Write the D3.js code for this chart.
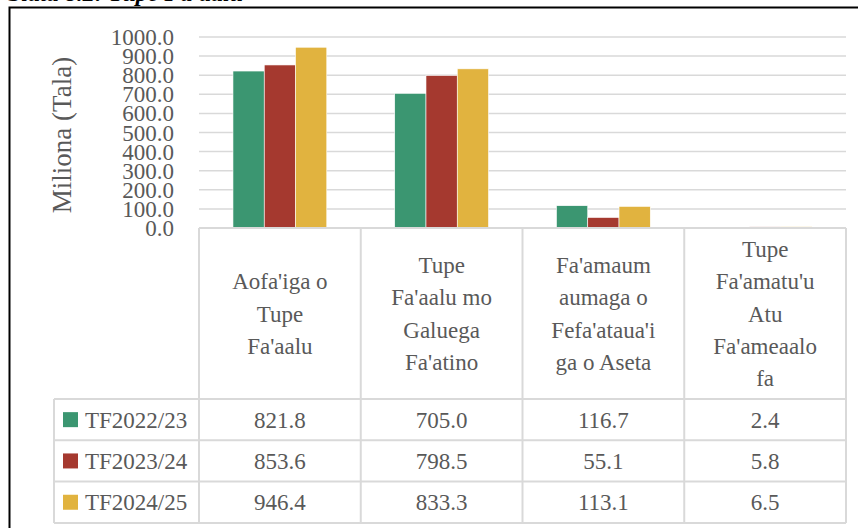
<!DOCTYPE html>
<html>
<head>
<meta charset="utf-8">
<script src="https://cdn.jsdelivr.net/npm/d3@7"></script>
<style>
  body { margin: 0; background: #fff; }
  svg text { font-family: "Liberation Serif", "DejaVu Serif", serif; fill: #595959; }
</style>
</head>
<body>
<div id="chart-area"></div>
<script>
// categories (header row of the data table)
const categories = [
    ["Aofa'iga o", "Tupe", "Fa'aalu"],
    ["Tupe", "Fa'aalu mo", "Galuega", "Fa'atino"],
    ["Fa'amaum", "aumaga o", "Fefa'ataua'i", "ga o Aseta"],
    ["Tupe", "Fa'amatu'u", "Atu", "Fa'ameaalo", "fa"]
];
const seriesNames = ["TF2022/23", "TF2023/24", "TF2024/25"];
const seriesColors = ["#3b9671", "#a5392f", "#e1b33f"];
const values2022 = [821.8, 705.0, 116.7, 2.4];
const values2023 = [853.6, 798.5, 55.1, 5.8];
const values2024 = [946.4, 833.3, 113.1, 6.5];
const yTicks = [0, 100, 200, 300, 400, 500, 600, 700, 800, 900, 1000];

const seriesValues = [values2022, values2023, values2024];

const width = 858;
const height = 528;
const gridCol = "#d9d9d9";

const svg = d3.select("#chart-area")
    .append("svg")
    .attr("width", width)
    .attr("height", height);

// title, mostly cut off at the top edge, and frame
svg.append("text")
    .attr("x", 8)
    .attr("y", 1)
    .style("font-style", "italic")
    .style("font-weight", "bold")
    .style("font-size", "24px")
    .style("fill", "#000")
    .text("Siata 8.2: Tupe Fa'aalu");

svg.append("path")
    .attr("d", "M9.5,528 V7.5 H858")
    .attr("fill", "none")
    .attr("stroke", "#000")
    .attr("stroke-width", 2);

const plotLeft = 199, plotRight = 846;
const y = d3.scaleLinear().domain([0, 1000]).range([228, 37]);
const x0 = d3.scaleBand()
    .domain(d3.range(categories.length))
    .range([plotLeft, plotRight]);
const step = x0.bandwidth();
const x1 = d3.scaleBand()
    .domain(d3.range(seriesNames.length))
    .range([step * 0.21, step * 0.79]);

// gridlines
svg.append("g")
    .selectAll("line")
    .data(yTicks.slice(1))
    .enter()
    .append("line")
    .attr("x1", plotLeft)
    .attr("x2", plotRight)
    .attr("y1", d => y(d))
    .attr("y2", d => y(d))
    .attr("stroke", gridCol)
    .attr("stroke-width", 1.5);

// tick labels (they crowd each other, as in the original)
svg.append("g")
    .selectAll("text")
    .data(yTicks)
    .enter()
    .append("text")
    .attr("x", 174)
    .attr("y", d => y(d))
    .attr("dy", "0.35em")
    .attr("text-anchor", "end")
    .style("font-size", "23px")
    .text(d => d3.format(".1f")(d));

// axis title
svg.append("text")
    .attr("transform", "translate(71,135) rotate(-90)")
    .attr("text-anchor", "middle")
    .style("font-size", "27px")
    .text("Miliona (Tala)");

// bars
const groups = svg.append("g")
    .selectAll("g")
    .data(categories.map((c, i) => i))
    .enter()
    .append("g")
    .attr("transform", d => "translate(" + x0(d) + ",0)");

groups.selectAll("rect")
    .data(ci => seriesValues.map((s, si) => ({si: si, v: s[ci]})))
    .enter()
    .append("rect")
    .attr("x", d => x1(d.si))
    .attr("width", x1.bandwidth())
    .attr("y", d => y(d.v))
    .attr("height", d => y(0) - y(d.v))
    .attr("fill", d => seriesColors[d.si])
    .attr("stroke", "#fff")
    .attr("stroke-width", 0.6);

// data table
const headTop = 228, headBottom = 399;
const rowH = 41.3;
const tableLeft = 54;
const tbl = svg.append("g");

// header row cells
categories.forEach((lines, i) => {
    const cx = x0(i) + step / 2;
    const lh = 32.3;
    const startY = (headTop + headBottom) / 2 - (lines.length - 1) * lh / 2;
    tbl.append("text")
        .attr("text-anchor", "middle")
        .style("font-size", "23px")
        .selectAll("tspan")
        .data(lines)
        .enter()
        .append("tspan")
        .attr("x", cx)
        .attr("y", (d, k) => startY + k * lh)
        .attr("dy", "0.35em")
        .text(d => d);
});

// data rows
seriesNames.forEach((name, si) => {
    const top = headBottom + si * rowH;
    const mid = top + rowH / 2;
    tbl.append("rect")
        .attr("x", 63)
        .attr("y", mid - 7.5)
        .attr("width", 15)
        .attr("height", 15)
        .attr("fill", seriesColors[si]);
    tbl.append("text")
        .attr("x", 85)
        .attr("y", mid)
        .attr("dy", "0.35em")
        .style("font-size", "23px")
        .text(name);
    seriesValues[si].forEach((v, ci) => {
        tbl.append("text")
            .attr("x", x0(ci) + step / 2)
            .attr("y", mid)
            .attr("dy", "0.35em")
            .attr("text-anchor", "middle")
            .style("font-size", "23px")
            .text(d3.format(".1f")(v));
    });
});

// table lines
const tableBottom = headBottom + rowH * seriesNames.length;
const hLines = [];
hLines.push([plotLeft, plotRight, headTop]);
for (let r = 0; r <= seriesNames.length; r++) {
    hLines.push([tableLeft, plotRight, headBottom + r * rowH]);
}
tbl.selectAll("line.h")
    .data(hLines)
    .enter()
    .append("line")
    .attr("x1", d => d[0])
    .attr("x2", d => d[1])
    .attr("y1", d => d[2])
    .attr("y2", d => d[2])
    .attr("stroke", gridCol)
    .attr("stroke-width", 2);

const vLines = [[tableLeft, headBottom, tableBottom]];
for (let c = 0; c <= categories.length; c++) {
    const xx = c < categories.length ? x0(c) : plotRight;
    vLines.push([xx, headTop, tableBottom]);
}
tbl.selectAll("line.v")
    .data(vLines)
    .enter()
    .append("line")
    .attr("x1", d => d[0])
    .attr("x2", d => d[0])
    .attr("y1", d => d[1])
    .attr("y2", d => d[2])
    .attr("stroke", gridCol)
    .attr("stroke-width", 2);
</script>
</body>
</html>
